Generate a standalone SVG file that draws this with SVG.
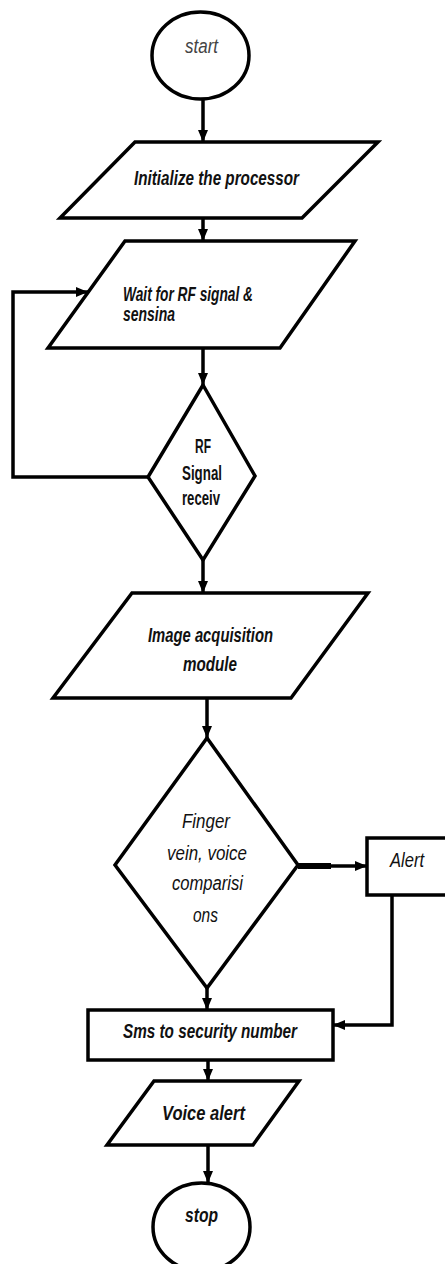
<svg xmlns="http://www.w3.org/2000/svg" width="445" height="1264" viewBox="0 0 445 1264">
  <defs>
    <marker id="arrow" viewBox="0 0 12 10" refX="12" refY="5" markerWidth="12" markerHeight="10" markerUnits="userSpaceOnUse" orient="auto">
      <path d="M0,0 L12,5 L0,10 Z" fill="#000"/>
    </marker>
    <style>
      .shape { fill: #fff; stroke: #000; stroke-width: 3.5; stroke-linejoin: miter; }
      .conn { fill: none; stroke: #000; stroke-width: 3.5; }
      .lbl { font-family: "Liberation Sans", Arial, sans-serif; font-style: italic; font-size: 20px; fill: #111; text-anchor: start; }
      .bold { font-weight: bold; }
      .upright { font-style: normal; }
      .light { fill: #444; }
    </style>
  </defs>
  <rect width="445" height="1264" fill="#fff"/>

  <!-- connectors -->
  <g id="connectors">
    <line class="conn" x1="203" y1="99" x2="203" y2="142" marker-end="url(#arrow)"/>
    <line class="conn" x1="203" y1="218" x2="203" y2="241" marker-end="url(#arrow)"/>
    <line class="conn" x1="203" y1="348" x2="203" y2="385" marker-end="url(#arrow)"/>
    <polyline class="conn" points="148,477 13,477 13,292 88,292" marker-end="url(#arrow)"/>
    <line class="conn" x1="203" y1="560" x2="203" y2="593" marker-end="url(#arrow)"/>
    <line class="conn" x1="207" y1="698" x2="207" y2="738" marker-end="url(#arrow)"/>
    <line x1="298" y1="866" x2="331" y2="866" stroke="#000" stroke-width="6"/>
    <line class="conn" x1="330" y1="866" x2="367" y2="866" marker-end="url(#arrow)"/>
    <line class="conn" x1="207" y1="988" x2="207" y2="1010" marker-end="url(#arrow)"/>
    <polyline class="conn" points="392,895 392,1025 333,1025" marker-end="url(#arrow)"/>
    <line class="conn" x1="208" y1="1060" x2="208" y2="1081" marker-end="url(#arrow)"/>
    <line class="conn" x1="208" y1="1145" x2="208" y2="1183" marker-end="url(#arrow)"/>
  </g>

  <g id="start">
    <ellipse class="shape" cx="200.5" cy="55.5" rx="48.5" ry="43.5"/>
    <text class="lbl light" x="185" y="53" textLength="33" lengthAdjust="spacingAndGlyphs">start</text>
  </g>

  <g id="init">
    <polygon class="shape" points="135,142 378,142 302,218 60,218"/>
    <text class="lbl bold" x="134" y="185" font-size="21" textLength="165" lengthAdjust="spacingAndGlyphs">Initialize the processor</text>
  </g>

  <g id="wait">
    <polygon class="shape" points="125,241 355,241 280,348 48,348"/>
    <text class="lbl bold" x="123" y="301" font-size="21" textLength="130" lengthAdjust="spacingAndGlyphs">Wait for RF signal &amp;</text>
    <text class="lbl bold" x="123" y="321" font-size="21" textLength="52" lengthAdjust="spacingAndGlyphs">sensina</text>
  </g>

  <g id="rf-check">
    <polygon class="shape" points="203,385 255,476 203,560 148,477"/>
    <text class="lbl bold upright" x="195" y="453" font-size="18" textLength="16" lengthAdjust="spacingAndGlyphs">RF</text>
    <text class="lbl bold upright" x="182" y="480" font-size="18" textLength="40" lengthAdjust="spacingAndGlyphs">Signal</text>
    <text class="lbl bold upright" x="182" y="505" font-size="18" textLength="38" lengthAdjust="spacingAndGlyphs">receiv</text>
  </g>

  <g id="image-acq">
    <polygon class="shape" points="132,593 368,593 291,698 53,698"/>
    <text class="lbl bold" x="148" y="642" font-size="21" textLength="125" lengthAdjust="spacingAndGlyphs">Image acquisition</text>
    <text class="lbl bold" x="183" y="671" font-size="21" textLength="54" lengthAdjust="spacingAndGlyphs">module</text>
  </g>

  <g id="compare">
    <polygon class="shape" points="207,738 298,865 207,988 115,865"/>
    <text class="lbl" x="182" y="828" textLength="48" lengthAdjust="spacingAndGlyphs">Finger</text>
    <text class="lbl" x="167" y="860" textLength="80" lengthAdjust="spacingAndGlyphs">vein, voice</text>
    <text class="lbl" x="172" y="890" textLength="71" lengthAdjust="spacingAndGlyphs">comparisi</text>
    <text class="lbl" x="193" y="922" textLength="25" lengthAdjust="spacingAndGlyphs">ons</text>
  </g>

  <g id="alert">
    <rect class="shape" x="367" y="838" width="82" height="57"/>
    <text class="lbl" x="390" y="867" textLength="34" lengthAdjust="spacingAndGlyphs">Alert</text>
  </g>

  <g id="sms">
    <rect class="shape" x="88" y="1010" width="245" height="50"/>
    <text class="lbl bold" x="123" y="1038" font-size="21" textLength="174" lengthAdjust="spacingAndGlyphs">Sms to security number</text>
  </g>

  <g id="voice-alert">
    <polygon class="shape" points="154,1081 299,1081 253,1145 107,1145"/>
    <text class="lbl bold" x="162" y="1120" font-size="21" textLength="83" lengthAdjust="spacingAndGlyphs">Voice alert</text>
  </g>

  <g id="stop">
    <ellipse class="shape" cx="201.5" cy="1227" rx="48.5" ry="44"/>
    <text class="lbl bold" x="185" y="1222" font-size="20" textLength="33" lengthAdjust="spacingAndGlyphs">stop</text>
  </g>
</svg>
